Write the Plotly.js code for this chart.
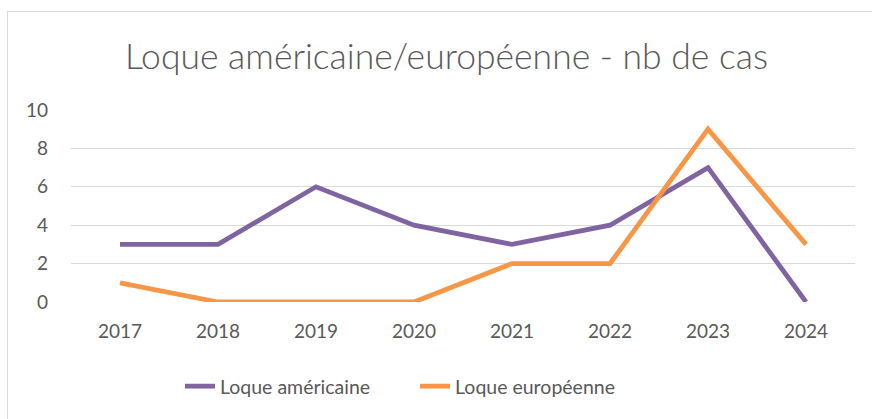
<!DOCTYPE html>
<html><head><meta charset="utf-8">
<script src="https://cdn.plot.ly/plotly-3.0.1.min.js"></script>
<style>
html,body{margin:0;padding:0;background:#fff;}
#wrap{position:relative;width:872px;height:419px;}
#chart{width:872px;height:419px;}
#frame{position:absolute;left:7px;top:11px;width:880px;height:420px;border:1px solid #D9D9D9;pointer-events:none;}
</style></head>
<body><div id="wrap"><div id="chart"></div><div id="frame"></div></div>
<script>
const years = ['2017','2018','2019','2020','2021','2022','2023','2024'];
const americaine = [3,3,6,4,3,4,7,0];
const europeenne = [1,0,0,0,2,2,9,3];
const seriesNames = ['Loque américaine','Loque européenne'];
const yTicks = [0,2,4,6,8,10];

const font = 'Lato, "Open Sans", sans-serif';
const traces = [
  {x: years, y: americaine, name: seriesNames[0], type:'scatter', mode:'lines', legend:'legend',
   line:{color:'#8064A2', width:4.8}},
  {x: years, y: europeenne, name: seriesNames[1], type:'scatter', mode:'lines', legend:'legend2',
   line:{color:'#F79646', width:4.8}}
];
const legFont = {family:font, size:19.5, color:'#595959'};
const layout = {
  width:872, height:419,
  margin:{l:71, r:17, t:110, b:117},
  paper_bgcolor:'#fff', plot_bgcolor:'#fff',
  title:{text:'Loque américaine/européenne - nb de cas', x:0.512, xanchor:'center', y:0.865, yanchor:'middle',
         font:{family:font, size:35.5, color:'#595959', weight:300}},
  xaxis:{type:'category', range:[-0.5,7.5], showgrid:false, zeroline:false, showline:false, ticks:'',
         tickfont:{family:font, size:19, color:'#595959'}, ticklabelstandoff:16},
  yaxis:{range:[0,10], tickvals:yTicks, showgrid:true, gridcolor:'#D9D9D9', gridwidth:1.3,
         zeroline:false, showline:false, ticks:'', ticklabelstandoff:22,
         tickfont:{family:font, size:19, color:'#595959'}},
  legend:{orientation:'h', x:0.139, xanchor:'left', y:-0.44, yanchor:'middle', font:legFont},
  legend2:{orientation:'h', x:0.4388, xanchor:'left', y:-0.44, yanchor:'middle', font:legFont},
  showlegend:true
};
Plotly.newPlot('chart', traces, layout, {displayModeBar:false, staticPlot:true});
</script></body></html>
